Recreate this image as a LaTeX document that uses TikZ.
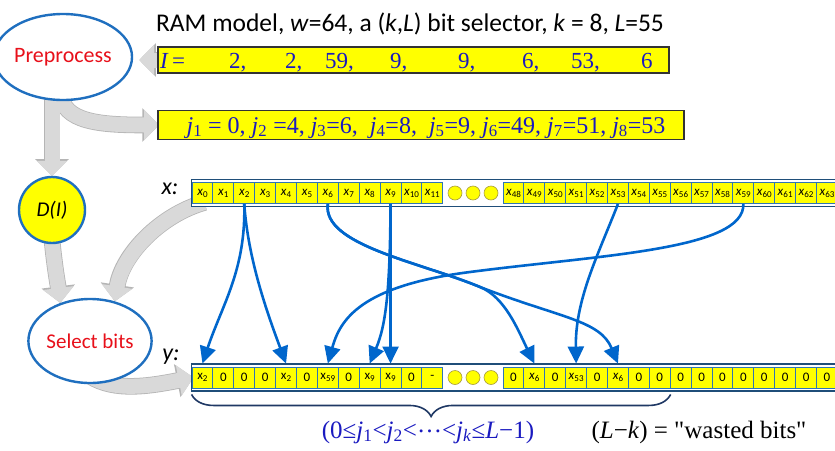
\documentclass[tikz,border=0pt]{standalone}
\usepackage{fontspec}
\setmainfont{Liberation Serif}
\newfontfamily\calfont{Carlito}
\newfontfamily\rawserif{Liberation Serif}[Ligatures=TeXOff]
\usetikzlibrary{arrows.meta,shapes.geometric,decorations.pathreplacing}
\pgfdeclarelayer{bg}
\pgfsetlayers{bg,main}
\definecolor{cellfill}{HTML}{FFFF00}
\definecolor{cellline}{HTML}{2E75B6}
\definecolor{rowline}{HTML}{1F4E79}
\definecolor{arrowblue}{HTML}{0066CC}
\definecolor{ringblue}{HTML}{1F6FBF}
\definecolor{redtxt}{HTML}{E8101A}
\definecolor{txtblue}{HTML}{1A1AC0}
\definecolor{fatfill}{HTML}{D9D9D9}
\definecolor{fatedge}{HTML}{B5B5B5}
\definecolor{bracecol}{HTML}{1F3864}
\definecolor{boxline}{HTML}{333333}
\definecolor{dotedge}{HTML}{A89C3C}
\newcommand\xl[1]{\textit{x}\raisebox{-2pt}{\fontsize{9}{9}\selectfont #1}}
\newcommand\xu[1]{x\raisebox{-2pt}{\fontsize{9}{9}\selectfont #1}}
\tikzset{
  cellbox/.style={rectangle, draw=cellline, fill=cellfill, line width=0.9pt,
    minimum width=20.9pt, minimum height=21pt, inner sep=0pt,
    font=\calfont\fontsize{13}{13}\selectfont},
  rowframe/.style={rectangle, draw=rowline, line width=1.8pt, fill=white, inner sep=0pt},
  dotc/.style={circle, draw=dotedge, fill=cellfill, minimum size=14pt, inner sep=0pt, line width=0.6pt},
  selarrow/.style={draw=arrowblue, line width=2.6pt, -{Triangle[length=17pt,width=16pt]}},
  fatarrow/.style={draw=fatfill, line width=15pt, -{Triangle[length=15pt,width=30pt]},
    preaction={draw=fatedge, line width=16.6pt, -{Triangle[length=16.6pt,width=32.6pt]}}},
  procnode/.style={ellipse, draw=ringblue, line width=2.4pt, fill=white, text=redtxt,
    inner sep=0pt},
  databox/.style={rectangle, draw=boxline, line width=1.5pt, fill=cellfill, inner sep=0pt},
  ibtext/.style={font=\rmfamily\fontsize{23}{23}\selectfont, text=txtblue, inner sep=0pt},
  serifbig/.style={font=\rmfamily\fontsize{25}{25}\selectfont, inner sep=0pt},
}
\begin{document}
\begin{tikzpicture}[x=1pt,y=-1pt,font=\calfont]
\useasboundingbox (0,0) rectangle (835,450);

% title
\node[font=\calfont\fontsize{25.5}{26}\selectfont, anchor=base] (title) at (410,31)
  {RAM model, \textit{w}=64, a (\textit{k},\textit{L}) bit selector, \textit{k} = 8, \textit{L}=55};

% process nodes
\node[procnode, minimum width=110pt, minimum height=86pt, font=\calfont\fontsize{22}{22}\selectfont] (pre) at (63,57) {Preprocess};
\node[circle, draw=ringblue, line width=2.4pt, fill=cellfill, minimum size=66pt, inner sep=0pt,
  font=\calfont\itshape\fontsize{21}{21}\selectfont] (dnode) at (52,210) {D(I)};
\node[procnode, minimum width=114pt, minimum height=84pt, font=\calfont\fontsize{21}{21}\selectfont] (sel) at (90,341) {Select bits};

% I box
\node[databox, minimum width=511pt, minimum height=26pt, anchor=west] (ibox) at (157,60) {};
\foreach \xx/\t [count=\c] in {160/{\textit{I}},172/{=},229/{2,},285/{2,},325/{59,},390/{9,},458/{9,},522/{6,},571/{53,},641/{6}}
  \node[ibtext, anchor=base west] (iv\c) at (\xx,68) {\t};

% j box
\node[databox, minimum width=526pt, minimum height=29pt, anchor=west] (jbox) at (157,125) {};
\node[font=\rmfamily\fontsize{24}{24}\selectfont, text=txtblue, inner sep=0pt, anchor=base] (jtext) at (426,133)
  {\textit{j}\textsubscript{1} = 0, \textit{j}\textsubscript{2} =4, \textit{j}\textsubscript{3}=6,\ \ \textit{j}\textsubscript{4}=8,\ \ \textit{j}\textsubscript{5}=9,\ \textit{j}\textsubscript{6}=49, \textit{j}\textsubscript{7}=51, \textit{j}\textsubscript{8}=53};

% row labels
\node[font=\calfont\itshape\fontsize{24}{24}\selectfont, anchor=base] (xlab) at (170,194) {x:};
\node[font=\calfont\itshape\fontsize{24}{24}\selectfont, anchor=base] (ylab) at (171,360) {y:};

% x row
\node[rowframe, minimum width=660pt, minimum height=27pt, anchor=west] (xrow) at (190.5,193) {};
\foreach \i in {0,...,11}
  \node[cellbox] (x\i) at ({192+20.9*(\i+0.5)},193) {\xl{\i}};
\foreach \m in {0,...,15}{
  \pgfmathtruncatemacro{\n}{48+\m}
  \node[cellbox] (x\n) at ({503+20.9*(\m+0.5)},193) {\xl{\n}};
}
% y row
\node[rowframe, minimum width=660pt, minimum height=27pt, anchor=west] (yrow) at (190.5,377.5) {};
\foreach \i/\t in {0/{\xu{2}},1/0,2/0,3/0,4/{\xu{2}},5/0,6/{\xu{59}},7/0,8/{\xu{9}},9/{\xu{9}},10/0,11/{-}}
  \node[cellbox] (ya\i) at ({192+20.9*(\i+0.5)},377.5) {\t};
\foreach \i/\t in {0/0,1/{\xl{6}},2/0,3/{\xl{53}},4/0,5/{\xl{6}},6/0,7/0,8/0,9/0,10/0,11/0,12/0,13/0,14/0,15/0}
  \node[cellbox] (yb\i) at ({503+20.9*(\i+0.5)},377.5) {\t};
\foreach \k in {0,1,2}{
  \node[dotc] (xd\k) at ({455+18*\k},193) {};
  \node[dotc] (yd\k) at ({455+18*\k},377.5) {};
}

% grey flow arrows
\begin{pgfonlayer}{bg}
\draw[fatarrow] ([xshift=6pt]ibox.west) -- ([xshift=6pt]ibox.west -| pre.east);
\draw[fatarrow] ([xshift=-2pt,yshift=8pt]pre.south) .. controls (62,122) and (100,125) .. ([xshift=2pt]jbox.west);
\draw[fatarrow] ([yshift=8pt]pre.south -| dnode.north) -- (dnode.north);
\draw[fatarrow] ([yshift=4pt]dnode.south) .. controls (55,270) and (58,285) .. (sel.128);
\draw[fatarrow] ([xshift=14pt,yshift=5pt]xrow.south west) .. controls (160,215) and (122,255) .. (sel.58);
\draw[fatarrow] ([yshift=8pt]sel.south) .. controls (115,392) and (150,386) .. ([xshift=3pt]yrow.west);
\end{pgfonlayer}

% blue selection arrows
\draw[selarrow] (x2.south) .. controls (246,270) and (222,305) .. ([yshift=3pt]ya0.north);
\draw[selarrow] (x2.south) .. controls (248,260) and (268,315) .. ([yshift=3pt]ya4.north);
\draw[selarrow] (x6.south) .. controls (322,245) and (420,262) .. (480,287) .. controls (505,297) and (518,330) .. ([yshift=3pt]yb1.north);
\draw[selarrow] (x6.south) .. controls (322,245) and (420,262) .. (480,287) .. controls (560,318) and (600,320) .. ([yshift=3pt]yb5.north);
\draw[selarrow] (x9.south) -- ([yshift=3pt]ya9.north);
\draw[selarrow] (x9.south) .. controls (390,290) and (386,325) .. ([yshift=3pt]ya8.north);
\draw[selarrow] (x59.south) .. controls (745,250) and (600,255) .. (470,272) .. controls (360,286) and (340,320) .. ([yshift=3pt]ya6.north);
\draw[selarrow] (x53.south) .. controls (598,255) and (575,300) .. ([yshift=3pt]yb3.north);

% brace and notes
\draw[bracecol, line width=1.6pt, decorate, decoration={brace, amplitude=22pt, mirror}]
  ([yshift=-6pt]ya0.south west) -- ([yshift=-6pt]yb7.south east);
\node[serifbig, text=txtblue, anchor=base] (cond) at (428,438)
  {(0≤\textit{j}\textsubscript{1}<\textit{j}\textsubscript{2}<\raisebox{0.22em}{…}<\textit{j}\textsubscript{\textit{k}}≤\textit{L}−1)};
\node[serifbig, anchor=base] (waste) at (699,438) {(\textit{L}−\textit{k}) = {\rawserif "}wasted bits{\rawserif "}};
\end{tikzpicture}
\end{document}
